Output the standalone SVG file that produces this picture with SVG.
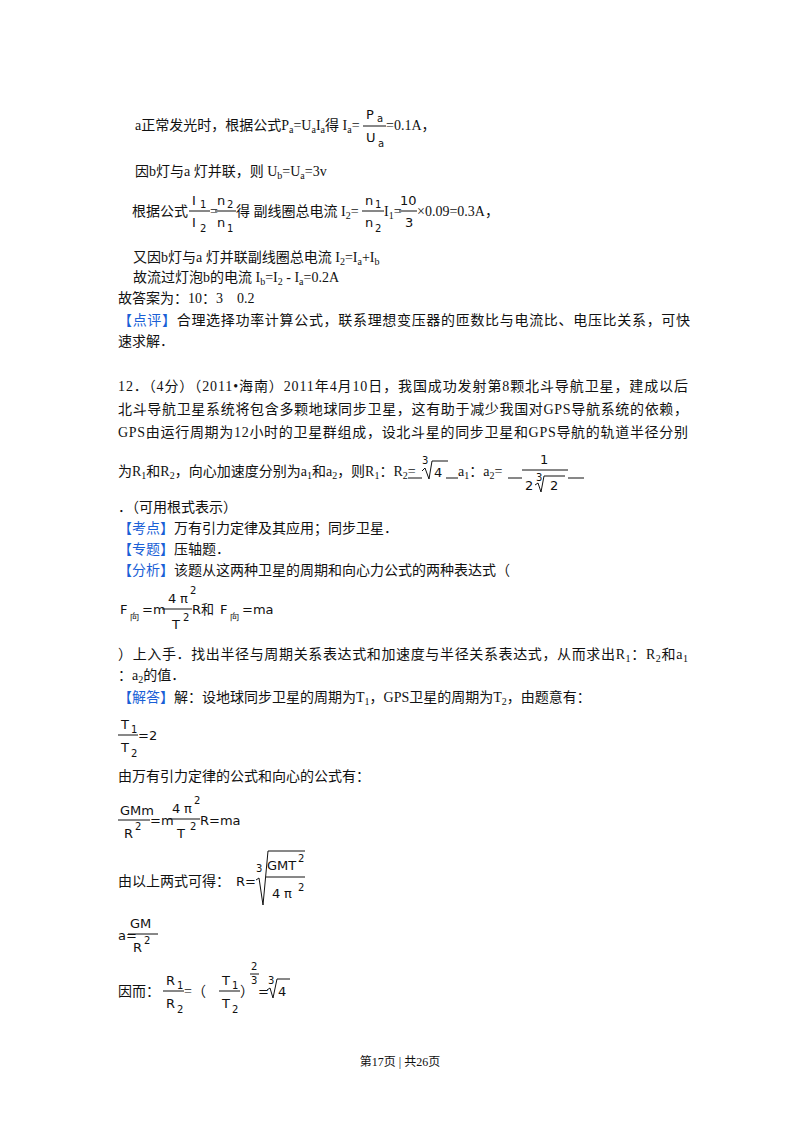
<svg xmlns="http://www.w3.org/2000/svg" width="800" height="1132" viewBox="0 0 800 1132">
<style>
text{font-family:"Liberation Serif","Noto Sans CJK SC",serif;font-size:14px;fill:#111}
.s{font-size:10px}
.m{font-family:"DejaVu Sans","Noto Sans CJK SC",sans-serif;font-size:13px}
.ms{font-family:"DejaVu Sans",sans-serif;font-size:10px}
.b{fill:#1a5fd6}
.f{font-size:12px}
line{stroke:#111;stroke-width:1}
path{fill:none;stroke:#111;stroke-width:1}
</style>
<rect width="800" height="1132" fill="#fff"/>
<g id="p1">
<text x="135" y="130">a正常发光时，根据公式P<tspan class="s" dy="3">a</tspan><tspan dy="-3">=U</tspan><tspan class="s" dy="3">a</tspan><tspan dy="-3">I</tspan><tspan class="s" dy="3">a</tspan><tspan dy="-3">得 I</tspan><tspan class="s" dy="3">a</tspan><tspan dy="-3">=</tspan></text>
<text class="m" x="366" y="119">P</text><text class="ms" x="377" y="122">a</text>
<line x1="363" y1="126" x2="386" y2="126"/>
<text class="m" x="366" y="142">U</text><text class="ms" x="378" y="147">a</text>
<text x="386" y="130">=0.1A，</text>
<text x="135" y="176">因b灯与a 灯并联，则 U<tspan class="s" dy="3">b</tspan><tspan dy="-3">=U</tspan><tspan class="s" dy="3">a</tspan><tspan dy="-3">=3v</tspan></text>
<text x="132" y="216">根据公式</text>
<text class="m" x="192" y="205">I</text><text class="ms" x="200" y="208">1</text>
<line x1="189" y1="211" x2="210" y2="211"/>
<text class="m" x="192" y="227">I</text><text class="ms" x="200" y="232">2</text>
<text x="210" y="216">=</text>
<text class="m" x="217" y="205">n</text><text class="ms" x="227" y="208">2</text>
<line x1="215" y1="211" x2="236" y2="211"/>
<text class="m" x="217" y="227">n</text><text class="ms" x="227" y="232">1</text>
<text x="236" y="216">得  副线圈总电流 I<tspan class="s" dy="3">2</tspan><tspan dy="-3">=</tspan></text>
<text class="m" x="365" y="205">n</text><text class="ms" x="375" y="208">1</text>
<line x1="362" y1="211" x2="384" y2="211"/>
<text class="m" x="365" y="227">n</text><text class="ms" x="375" y="232">2</text>
<text x="384" y="216">I<tspan class="s" dy="3">1</tspan><tspan dy="-3">=</tspan></text>
<text class="m" x="400" y="205">10</text>
<line x1="399" y1="211" x2="417" y2="211"/>
<text class="m" x="405" y="227">3</text>
<text x="417" y="216">×0.09=0.3A，</text>
<text x="133" y="262">又因b灯与a 灯并联副线圈总电流 I<tspan class="s" dy="3">2</tspan><tspan dy="-3">=I</tspan><tspan class="s" dy="3">a</tspan><tspan dy="-3">+I</tspan><tspan class="s" dy="3">b</tspan></text>
<text x="133" y="282">故流过灯泡b的电流 I<tspan class="s" dy="3">b</tspan><tspan dy="-3">=I</tspan><tspan class="s" dy="3">2</tspan><tspan dy="-3"> - I</tspan><tspan class="s" dy="3">a</tspan><tspan dy="-3">=0.2A</tspan></text>
<text x="118" y="303">故答案为：10：3　0.2</text>
<text x="118" y="325" textLength="572" lengthAdjust="spacing"><tspan class="b">【点评】</tspan>合理选择功率计算公式，联系理想变压器的匝数比与电流比、电压比关系，可快</text>
<text x="118" y="346">速求解．</text>
</g>
<g id="p2">
<text x="118" y="391" textLength="570" lengthAdjust="spacing">12．（4分）（2011•海南）2011年4月10日，我国成功发射第8颗北斗导航卫星，建成以后</text>
<text x="118" y="414" textLength="570" lengthAdjust="spacing">北斗导航卫星系统将包含多颗地球同步卫星，这有助于减少我国对GPS导航系统的依赖，</text>
<text x="118" y="437" textLength="570" lengthAdjust="spacing">GPS由运行周期为12小时的卫星群组成，设北斗星的同步卫星和GPS导航的轨道半径分别</text>
<text x="118" y="476">为R<tspan class="s" dy="3">1</tspan><tspan dy="-3">和R</tspan><tspan class="s" dy="3">2</tspan><tspan dy="-3">，向心加速度分别为a</tspan><tspan class="s" dy="3">1</tspan><tspan dy="-3">和a</tspan><tspan class="s" dy="3">2</tspan><tspan dy="-3">，则R</tspan><tspan class="s" dy="3">1</tspan><tspan dy="-3">：R</tspan><tspan class="s" dy="3">2</tspan><tspan dy="-3">=</tspan></text>
<line x1="408" y1="478" x2="422" y2="478"/>
<text class="ms" x="422" y="464">3</text>
<path d="M422,471 L425,468 L429,479 L432,461 L448,461"/>
<text class="m" x="434" y="477">4</text>
<line x1="446" y1="478" x2="458" y2="478"/>
<text x="458" y="476">a<tspan class="s" dy="3">1</tspan><tspan dy="-3">：a</tspan><tspan class="s" dy="3">2</tspan><tspan dy="-3">=</tspan></text>
<line x1="508" y1="478" x2="522" y2="478"/>
<text class="m" x="540" y="464">1</text>
<line x1="522" y1="470" x2="568" y2="470"/>
<text class="m" x="525" y="490">2</text><text class="ms" x="536" y="481">3</text>
<path d="M535,485 L538,483 L541,492 L544,476 L565,476"/>
<text class="m" x="550" y="490">2</text>
<line x1="568" y1="478" x2="584" y2="478"/>
<text x="118" y="512">．（可用根式表示）</text>
<text x="118" y="533"><tspan class="b">【考点】</tspan>万有引力定律及其应用；同步卫星．</text>
<text x="118" y="554"><tspan class="b">【专题】</tspan>压轴题．</text>
<text x="118" y="575"><tspan class="b">【分析】</tspan>该题从这两种卫星的周期和向心力公式的两种表达式（</text>
</g>
<g id="f1">
<text class="m" x="120" y="614">F</text><text class="ms" x="130" y="620">向</text>
<text class="m" x="142" y="614">=m</text>
<text class="m" x="168" y="603">4</text><text class="m" x="180" y="603">π</text><text class="ms" x="190" y="594">2</text>
<line x1="162" y1="609" x2="192" y2="609"/>
<text class="m" x="172" y="629">T</text><text class="ms" x="183" y="621">2</text>
<text class="m" x="192" y="614">R和</text>
<text class="m" x="220" y="614">F</text><text class="ms" x="230" y="620">向</text>
<text class="m" x="242" y="614">=ma</text>
</g>
<g id="p3">
<text x="118" y="659" textLength="570" lengthAdjust="spacing">）上入手．找出半径与周期关系表达式和加速度与半径关系表达式，从而求出R<tspan class="s" dy="3">1</tspan><tspan dy="-3">：R</tspan><tspan class="s" dy="3">2</tspan><tspan dy="-3">和a</tspan><tspan class="s" dy="3">1</tspan></text>
<text x="118" y="680">：a<tspan class="s" dy="3">2</tspan><tspan dy="-3">的值．</tspan></text>
<text x="118" y="702"><tspan class="b">【解答】</tspan>解：设地球同步卫星的周期为T<tspan class="s" dy="3">1</tspan><tspan dy="-3">，GPS卫星的周期为T</tspan><tspan class="s" dy="3">2</tspan><tspan dy="-3">，由题意有：</tspan></text>
</g>
<g id="f2">
<text class="m" x="121" y="729">T</text><text class="ms" x="131" y="733">1</text>
<line x1="118" y1="735" x2="138" y2="735"/>
<text class="m" x="121" y="752">T</text><text class="ms" x="131" y="757">2</text>
<text class="m" x="138" y="740">=2</text>
</g>
<text x="118" y="781">由万有引力定律的公式和向心的公式有：</text>
<g id="f3">
<text class="m" x="120" y="815">GMm</text>
<line x1="118" y1="820" x2="150" y2="820"/>
<text class="m" x="124" y="838">R</text><text class="ms" x="135" y="830">2</text>
<text class="m" x="150" y="825">=m</text>
<text class="m" x="172" y="813">4</text><text class="m" x="184" y="813">π</text><text class="ms" x="194" y="804">2</text>
<line x1="168" y1="819" x2="200" y2="819"/>
<text class="m" x="177" y="838">T</text><text class="ms" x="190" y="830">2</text>
<text class="m" x="200" y="825">R=ma</text>
</g>
<g id="f4">
<text x="118" y="886">由以上两式可得：</text>
<text class="m" x="236" y="886">R=</text>
<text class="ms" x="256" y="872">3</text>
<path d="M256,880 L259,878 L263,905 L268,851 L305,851"/>
<text class="m" x="267" y="870">GMT</text><text class="ms" x="298" y="862">2</text>
<line x1="266" y1="877" x2="305" y2="877"/>
<text class="m" x="272" y="898">4</text><text class="m" x="284" y="898">π</text><text class="ms" x="298" y="891">2</text>
</g>
<g id="f5">
<text class="m" x="118" y="940">a=</text>
<text class="m" x="130" y="928">GM</text>
<line x1="128" y1="934" x2="158" y2="934"/>
<text class="m" x="133" y="952">R</text><text class="ms" x="144" y="944">2</text>
</g>
<g id="f6">
<text x="118" y="996">因而：</text>
<text class="m" x="166" y="985">R</text><text class="ms" x="177" y="989">1</text>
<line x1="163" y1="991" x2="184" y2="991"/>
<text class="m" x="166" y="1008">R</text><text class="ms" x="177" y="1013">2</text>
<text x="184" y="996">=（</text>
<text class="m" x="222" y="985">T</text><text class="ms" x="232" y="989">1</text>
<line x1="219" y1="991" x2="240" y2="991"/>
<text class="m" x="222" y="1008">T</text><text class="ms" x="232" y="1013">2</text>
<text x="240" y="996">）</text>
<text class="ms" x="251" y="970">2</text>
<line x1="250" y1="974" x2="259" y2="974"/>
<text class="ms" x="251" y="984">3</text>
<text class="m" x="258" y="996">=</text>
<text class="ms" x="268" y="984">3</text>
<path d="M267,990 L270,988 L273,998 L277,979 L290,979"/>
<text class="m" x="278" y="996">4</text>
</g>
<text class="f" x="400" y="1066" text-anchor="middle">第17页 | 共26页</text>
</svg>
